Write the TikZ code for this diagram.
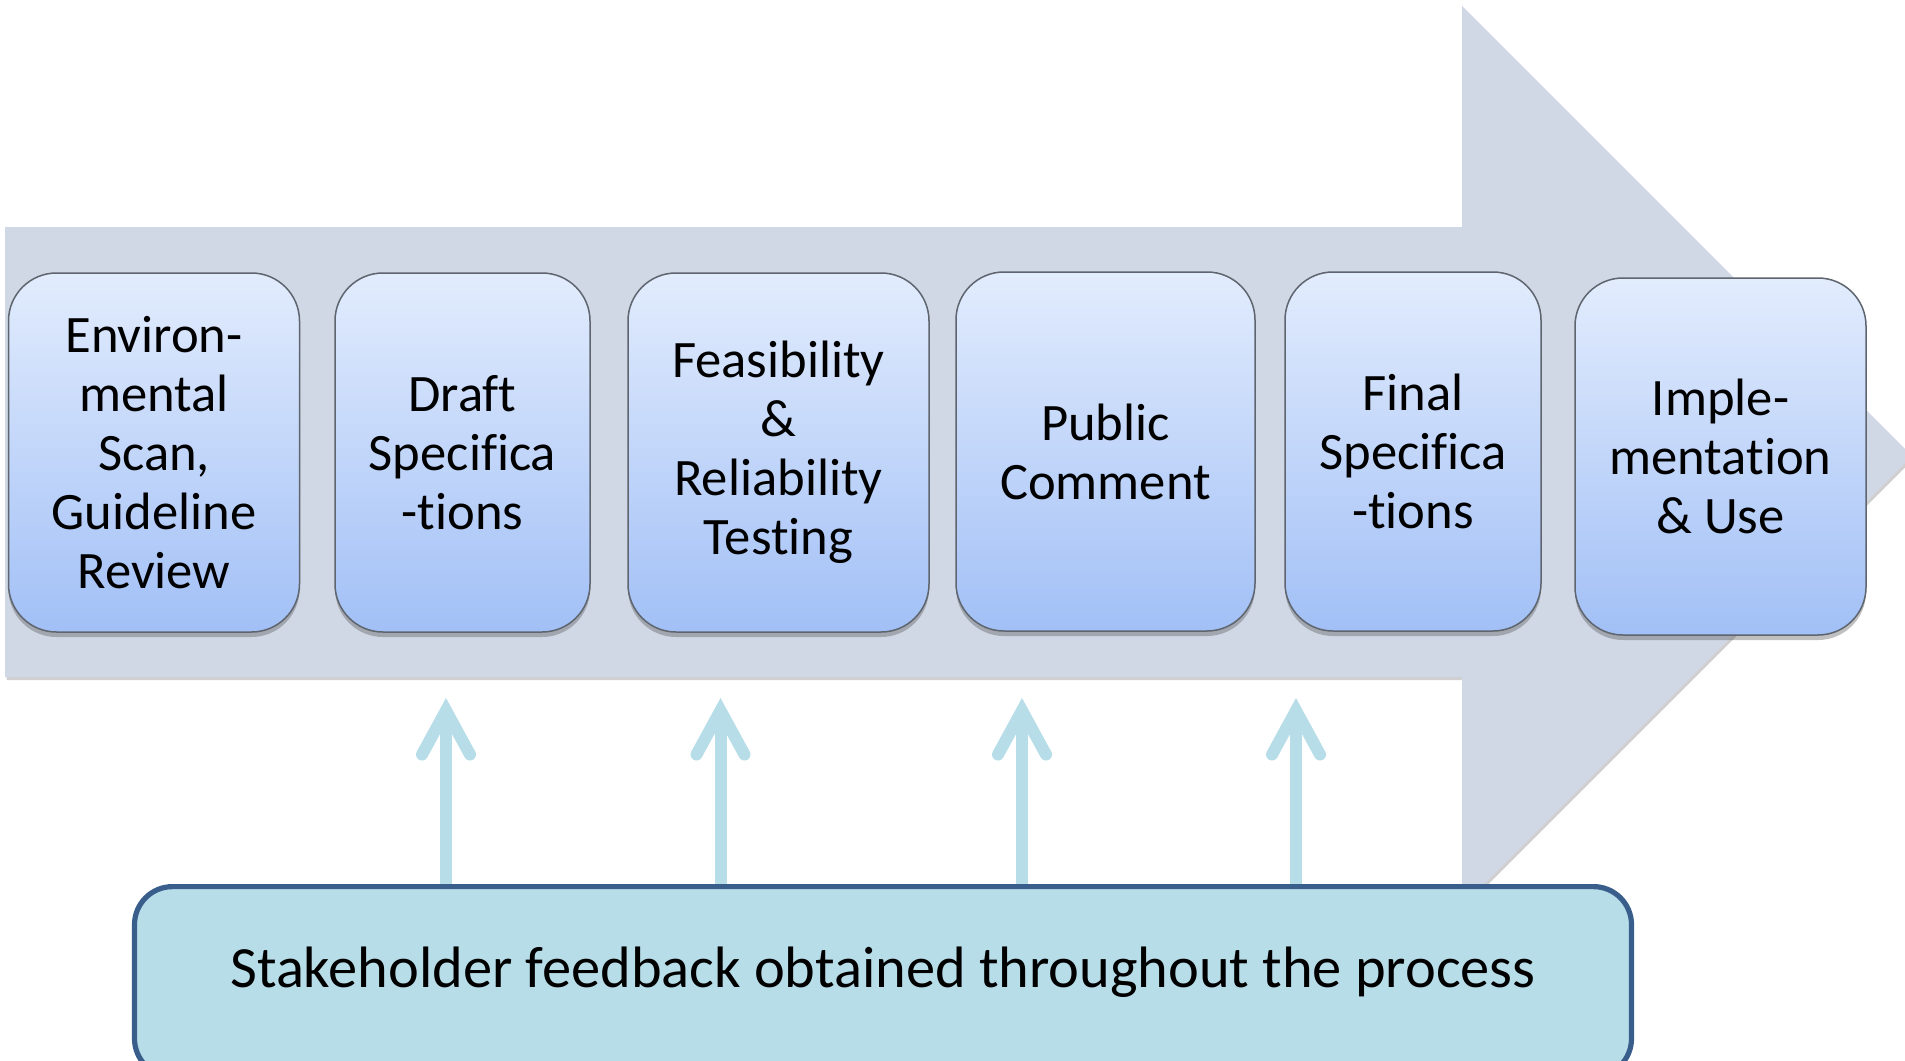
\documentclass[tikz,border=0pt]{standalone}
\usepackage{fontspec}
\setmainfont[Ligatures=NoCommon]{Carlito}
\usetikzlibrary{shadows,arrows.meta}
\definecolor{bandgray}{HTML}{D0D7E5}
\definecolor{boxtop}{HTML}{E2ECFD}
\definecolor{boxbot}{HTML}{A2C0F6}
\definecolor{boxline}{HTML}{5E656E}
\definecolor{fbfill}{HTML}{B7DDE8}
\definecolor{fbline}{HTML}{3A5E8C}
\definecolor{arrowblue}{HTML}{B7DDE8}
\tikzset{
  stepbox/.style={draw=boxline, line width=0.75pt, rounded corners=24pt,
    top color=boxtop, bottom color=boxbot, minimum height=179.5pt,
    inner sep=0pt, align=center,
    font=\fontsize{26.3pt}{29.5pt}\selectfont,
    drop shadow={shadow xshift=0pt, shadow yshift=-2.5pt, opacity=0.35, fill=black!70}},
  fbbox/.style={draw=fbline, line width=2.6pt, fill=fbfill, rounded corners=19pt,
    inner sep=0pt},
  fbtextstyle/.style={font=\fontsize{29.2pt}{34pt}\selectfont, inner sep=0pt},
  feedarrow/.style={draw=arrowblue, line width=6pt,
    -{Straight Barb[length=22pt, width=24pt, line cap=round, line join=miter]}},
  band/.style={fill=bandgray, drop shadow={shadow xshift=0.8pt, shadow yshift=-1.5pt, opacity=0.3, fill=black!60}}
}
\begin{document}
\begin{tikzpicture}[x=0.5pt, y=-0.5pt]
\useasboundingbox (0,0) rectangle (1905,1060);
\fill[white] (0,0) rectangle (1905,1060);
% big process arrow
\path[band] (5,227) -- (1462,227) -- (1462,6) -- (1912,456) -- (1462,906)
  -- (1462,677) -- (5,677) -- cycle;
% stage boxes
\node[stepbox, minimum width=145.5pt] (b1) at (154,452.5) {Environ-\\mental\\Scan,\\Guideline\\Review};
\node[stepbox, minimum width=127.5pt] (b2) at (462.5,452.5) {Draft\\Specifica\\-tions};
\node[stepbox, minimum width=150.5pt] (b3) at (778.5,452.5) {Feasibility\\\&\\Reliability\\Testing};
\node[stepbox, minimum width=149.5pt] (b4) at (1105.5,451.5) {Public\\Comment};
\node[stepbox, minimum width=128pt] (b5) at (1413,451.5) {Final\\Specifica\\-tions};
\node[stepbox, minimum width=145.5pt, minimum height=178.5pt] (b6) at (1720.5,456.5) {Imple-\\mentation\\\& Use};
% feedback arrows
\coordinate (t1) at (446,698);
\coordinate (t2) at (720.5,698);
\coordinate (t3) at (1022,698);
\coordinate (t4) at (1296,698);
\coordinate (fbtop) at (883,884);
\draw[feedarrow] (t1 |- fbtop) -- (t1);
\draw[feedarrow] (t2 |- fbtop) -- (t2);
\draw[feedarrow] (t3 |- fbtop) -- (t3);
\draw[feedarrow] (t4 |- fbtop) -- (t4);
% feedback box
\node[fbbox, minimum width=748.5pt, minimum height=95pt, anchor=north] (fb) at (fbtop) {};
\node[fbtextstyle] (fbtext) at (883,972) {Stakeholder feedback obtained throughout the process};
\end{tikzpicture}
\end{document}
